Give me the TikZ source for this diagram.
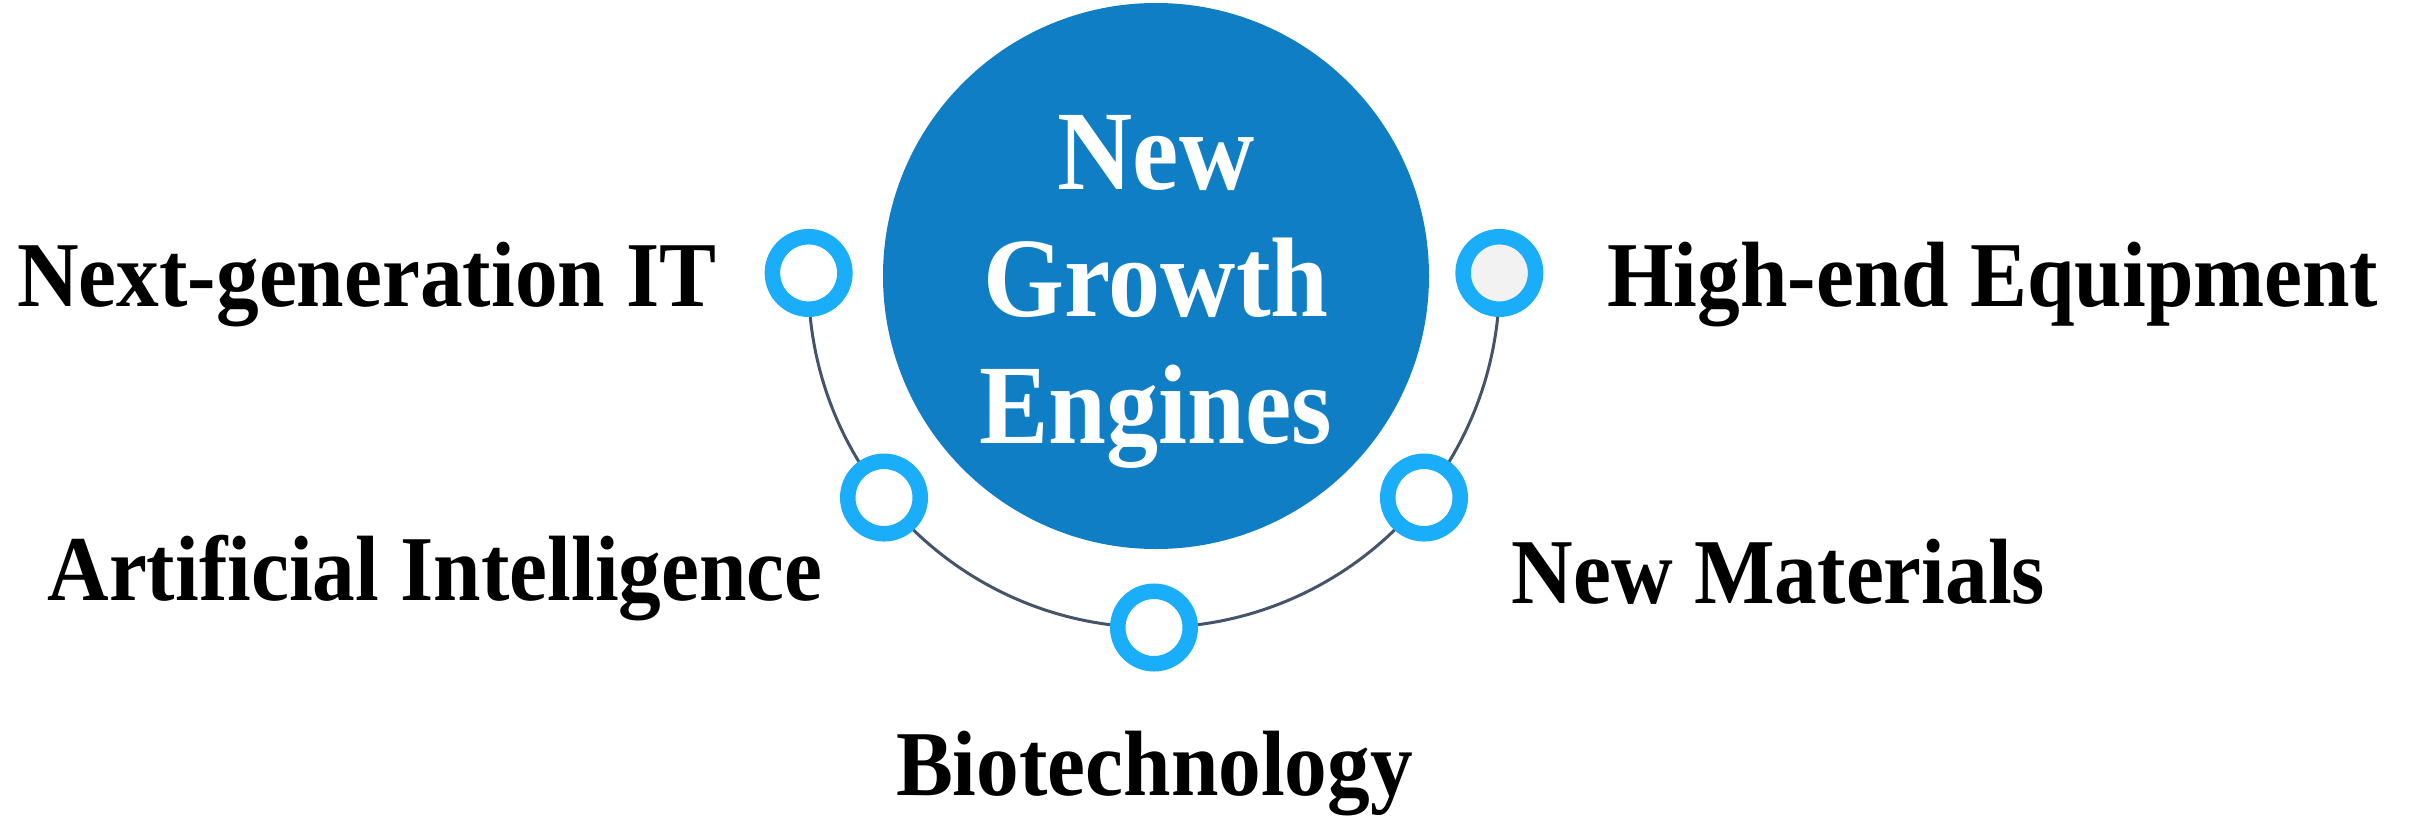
\documentclass[tikz,border=0pt]{standalone}
\usepackage{fontspec}
\setmainfont{Liberation Serif}[FakeStretch=0.92]
\usetikzlibrary{backgrounds}
\definecolor{hubblue}{HTML}{0F7EC4}
\definecolor{ringblue}{HTML}{1AADFA}
\definecolor{trackgray}{HTML}{44546A}
\definecolor{dotgray}{HTML}{F2F2F2}
\begin{document}
\begin{tikzpicture}[hub/.style={circle, fill=hubblue, minimum size=5.46cm, inner sep=0pt},
		dot/.style={circle, draw=ringblue, line width=0.155cm, fill=white, minimum size=0.725cm, inner sep=0pt},
		track/.style={draw=trackgray, line width=0.03cm},
		lbl/.style={inner sep=0pt, font=\fontsize{26.4pt}{30pt}\selectfont\bfseries},
		hubtxt/.style={inner sep=0pt, text=white, align=center, font=\fontsize{32.2pt}{36.1pt}\selectfont\bfseries}]
		\useasboundingbox (0,0) rectangle (24.15,8.16);
		\coordinate (ctr) at (11.54,5.34);
		\node[hub] (hub) at (11.56,5.40) {};
		\node[hubtxt, anchor=base] (title) at (11.56,3.73) {New\\Growth\\Engines};
		\node[dot] (nextit) at ([shift={(178.5:3.455)}]ctr) {};
		\node[dot] (ai) at ([shift={(218.6:3.455)}]ctr) {};
		\node[dot] (bio) at ([shift={(270:3.455)}]ctr) {};
		\node[dot] (mat) at ([shift={(321.4:3.455)}]ctr) {};
		\node[dot, fill=dotgray] (equip) at ([shift={(1.5:3.455)}]ctr) {};
		\begin{scope}[on background layer]
		\draw[track] (nextit.center) arc[start angle=178.5, end angle=361.5, radius=3.455cm];
		\end{scope}
		\node[lbl, anchor=base] (nextitlbl) at (3.67,5.10) {Next-generation IT};
		\node[lbl, anchor=base] (equiplbl) at (19.93,5.10) {High-end Equipment};
		\node[lbl, anchor=base] (ailbl) at (4.35,2.16) {Artificial Intelligence};
		\node[lbl, anchor=base] (matlbl) at (17.785,2.13) {New Materials};
		\node[lbl, anchor=base] (biolbl) at (11.545,0.21) {Biotechnology};
		\end{tikzpicture}
\end{document}
